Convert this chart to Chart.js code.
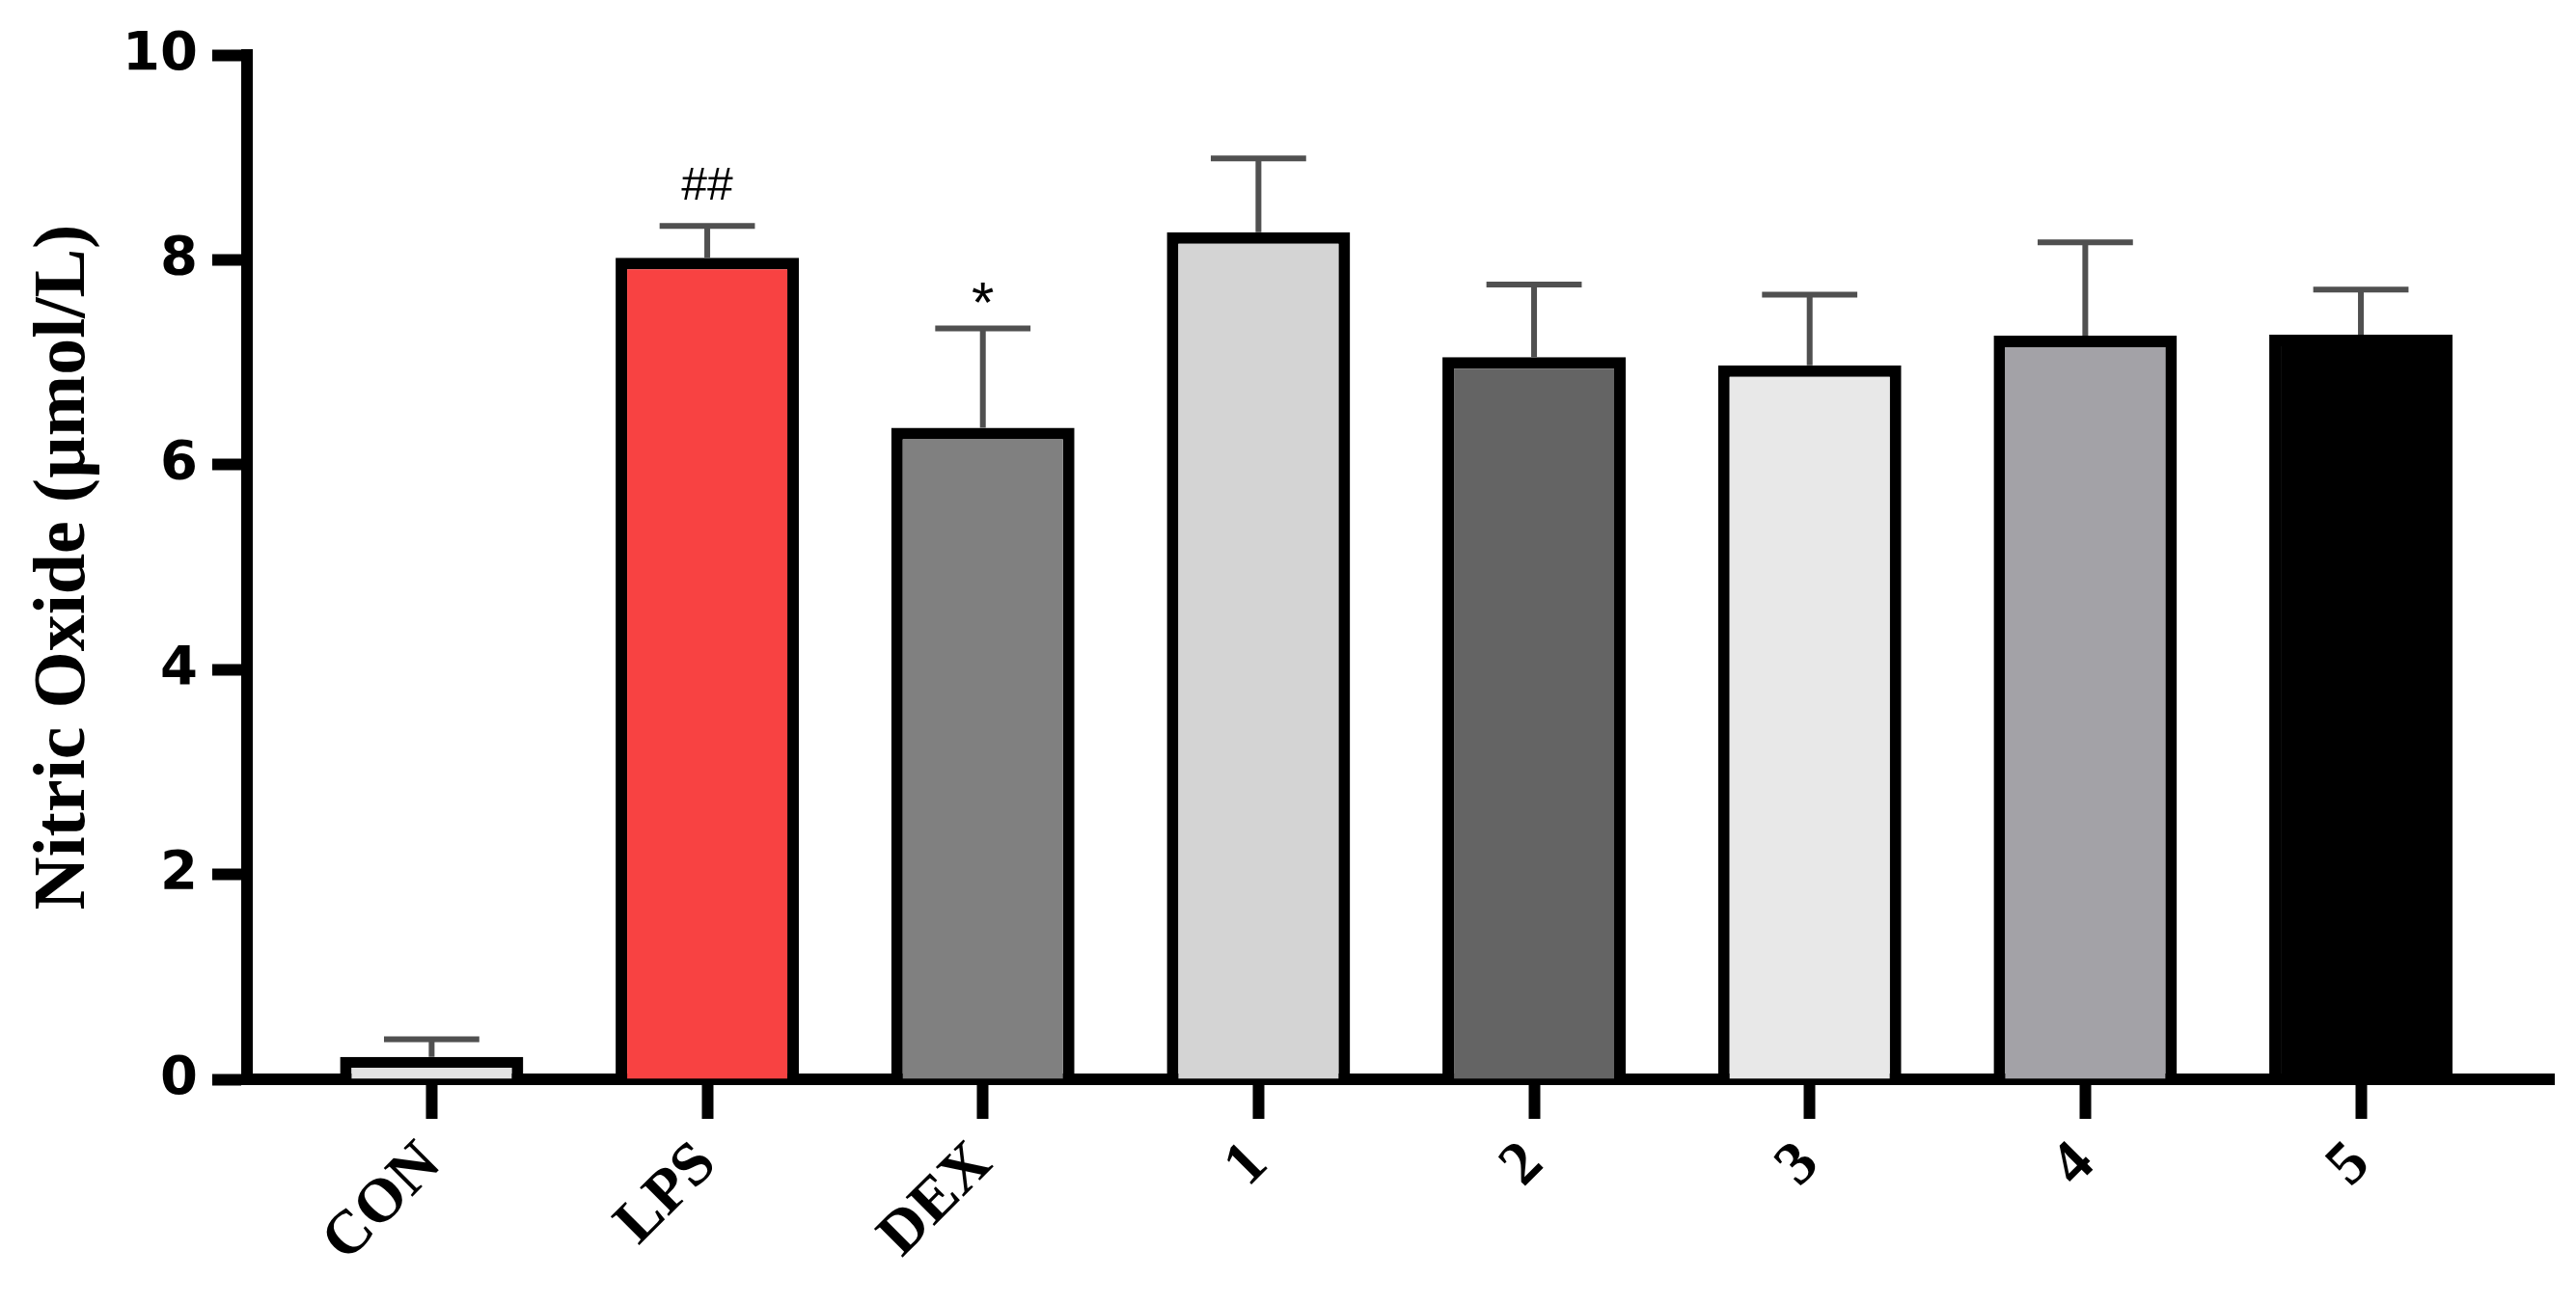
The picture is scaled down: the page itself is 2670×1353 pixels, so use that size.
<!DOCTYPE html>
<html lang="en">
<head>
    <meta charset="UTF-8">
    <title>Nitric Oxide</title>
    <script src="https://cdn.jsdelivr.net/npm/chart.js"></script>
    <style>
        html, body { margin: 0; padding: 0; background: #fff; }
    </style>
</head>
<body>
    <canvas id="no_chart" width="2670" height="1353"></canvas>

    <script>
// groups on the x axis
const groups = ['CON', 'LPS', 'DEX', '1', '2', '3', '4', '5'];
// mean NO level (µmol/L) and SD (upper error bar only)
const noMeans = [0.22, 8.02, 6.36, 8.27, 7.05, 6.97, 7.26, 7.27];
const noSD = [0.17, 0.31, 0.97, 0.72, 0.71, 0.69, 0.91, 0.44];
// significance marks above the error bars
const sigMarks = ['', '##', '*', '', '', '', '', ''];
const barColors = ['#e2e2e2', '#f84242', '#808080', '#d4d4d4', '#646464', '#e8e8e8', '#a3a2a7', '#000000'];
const yTicks = [0, 2, 4, 6, 8, 10];

// draws the SD whiskers and the ## / * marks
const errorBars = {
    id: 'errorBars',
    afterDatasetsDraw(chart) {
        const ctx = chart.ctx;
        const xs = chart.scales.x, ys = chart.scales.y;
        const bars = chart.getDatasetMeta(0).data;
        ctx.save();
        for (let i = 0; i < noMeans.length; i++) {
            const px = xs.getPixelForValue(i);
            const base = ys.getPixelForValue(noMeans[i]);
            const top = ys.getPixelForValue(noMeans[i] + noSD[i]);
            const half = bars[i].width * 0.26;
            ctx.strokeStyle = '#505050';
            ctx.lineWidth = 6;
            ctx.beginPath();
            ctx.moveTo(px, base);
            ctx.lineTo(px, top);
            ctx.moveTo(px - half, top);
            ctx.lineTo(px + half, top);
            ctx.stroke();

            if (sigMarks[i]) {
                const size = sigMarks[i] === '*' ? 60 : 48;
                ctx.font = size + 'px "Liberation Sans"';
                ctx.fillStyle = '#000';
                ctx.textAlign = 'center';
                ctx.textBaseline = 'alphabetic';
                const m = ctx.measureText(sigMarks[i]);
                // put the bottom of the glyph a fixed gap above the cap
                ctx.fillText(sigMarks[i], px, top - 27 - m.actualBoundingBoxDescent);
            }
        }
        ctx.restore();
    }
};

new Chart(document.getElementById('no_chart'), {
    type: 'bar',
    data: {
        datasets: [{
            data: noMeans.map((v, i) => ({ x: i, y: v })),
            backgroundColor: barColors,
            borderColor: '#000',
            borderWidth: 12,
            barPercentage: 0.665,
            categoryPercentage: 1
        }]
    },
    options: {
        responsive: false,
        animation: false,
        layout: { padding: { top: 57, right: 23, left: 0, bottom: 0 } },
        plugins: {
            legend: { display: false },
            tooltip: { enabled: false }
        },
        scales: {
            x: {
                type: 'linear',
                min: -0.67,
                max: 7.7,
                offset: false,
                z: 1,
                afterBuildTicks: s => { s.ticks = groups.map((g, i) => ({ value: i })); },
                afterFit: s => { s.height = 234; },
                ticks: {
                    autoSkip: false,
                    minRotation: 45,
                    maxRotation: 45,
                    padding: 10,
                    color: '#000',
                    font: { family: 'Liberation Serif', weight: 'bold', size: 64 },
                    callback: v => groups[v]
                },
                grid: { offset: false, drawOnChartArea: false, tickLength: 41, tickWidth: 12, tickColor: '#000' },
                border: { display: true, width: 12, color: '#000' }
            },
            y: {
                min: 0,
                max: 10,
                z: 1,
                afterBuildTicks: s => { s.ticks = yTicks.map(v => ({ value: v })); },
                afterFit: s => { s.width = 256; },
                ticks: {
                    padding: 15,
                    color: '#000',
                    font: { family: 'DejaVu Sans', weight: 'bold', size: 56 }
                },
                grid: { drawOnChartArea: false, tickLength: 36, tickWidth: 12, tickColor: '#000' },
                border: { display: true, width: 12, color: '#000' },
                title: {
                    display: true,
                    text: 'Nitric Oxide (µmol/L)',
                    color: '#000',
                    font: { family: 'Liberation Serif', weight: 'bold', size: 76 },
                    padding: { top: 22, bottom: 0 }
                }
            }
        }
    },
    plugins: [errorBars]
});
    </script>
</body>
</html>
